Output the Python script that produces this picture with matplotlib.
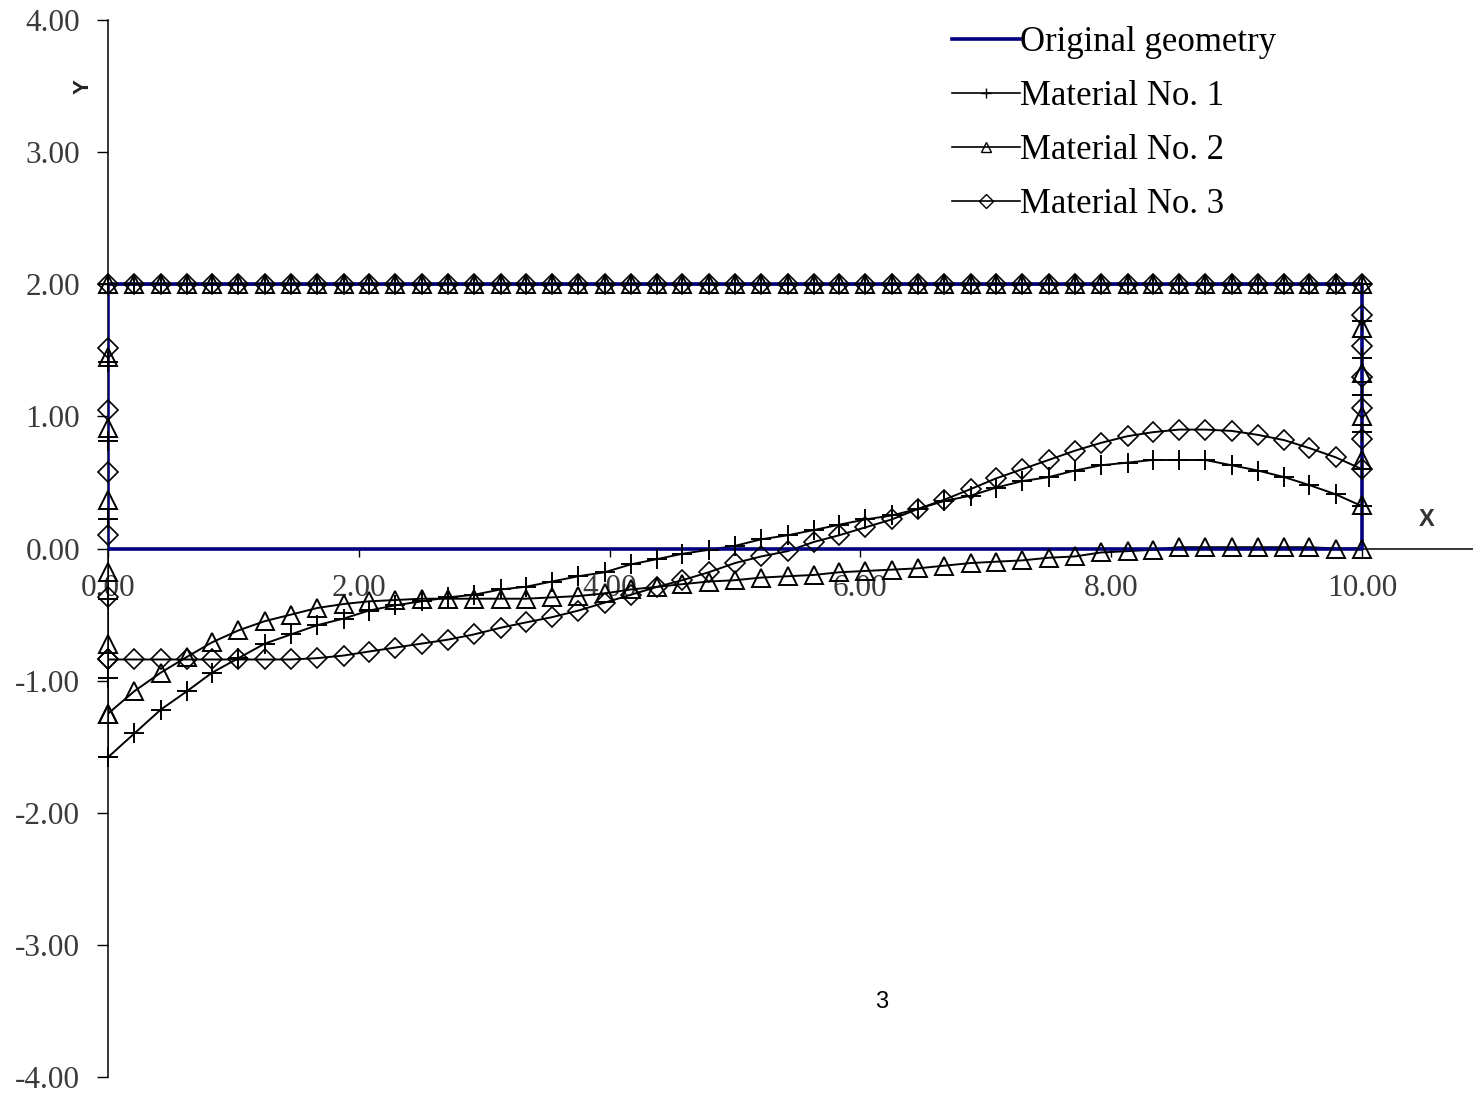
import matplotlib
matplotlib.use("Agg")
import matplotlib.pyplot as plt
from matplotlib.lines import Line2D

# ----------------------------------------------------------
# Node positions along the bottom / top edges (x)
# ----------------------------------------------------------
x_nodes = [0.00, 0.21, 0.42, 0.63, 0.83, 1.04, 1.25, 1.46, 1.67, 1.88,
           2.08, 2.29, 2.50, 2.71, 2.92, 3.13, 3.33, 3.54, 3.75, 3.96,
           4.17, 4.38, 4.58, 4.79, 5.00, 5.21, 5.42, 5.63, 5.83, 6.04,
           6.25, 6.46, 6.67, 6.88, 7.08, 7.29, 7.50, 7.71, 7.92, 8.13,
           8.33, 8.54, 8.75, 8.96, 9.17, 9.38, 9.58, 9.79, 10.00]

top_edge = 2.00
left_x = 0.00
right_x = 10.00

# original (undeformed) rectangle
orig_x = [0.00, 10.00, 10.00, 0.00, 0.00]
orig_y = [0.00, 0.00, 2.00, 2.00, 0.00]

# ----------------------------------------------------------
# Deformed bottom edge of each material
# ----------------------------------------------------------
bottom_m1 = [-1.58, -1.40, -1.22, -1.08, -0.94, -0.83, -0.72, -0.65, -0.58, -0.53,
             -0.47, -0.43, -0.40, -0.37, -0.35, -0.31, -0.29, -0.25, -0.21, -0.18,
             -0.12, -0.08, -0.04, -0.01, 0.02, 0.07, 0.10, 0.14, 0.18, 0.22,
             0.25, 0.30, 0.36, 0.40, 0.46, 0.51, 0.54, 0.59, 0.63, 0.65,
             0.67, 0.67, 0.67, 0.63, 0.59, 0.54, 0.48, 0.41, 0.32]

bottom_m2 = [-1.25, -1.08, -0.94, -0.82, -0.71, -0.62, -0.55, -0.50, -0.45, -0.42,
             -0.40, -0.39, -0.38, -0.38, -0.38, -0.38, -0.38, -0.37, -0.36, -0.34,
             -0.31, -0.29, -0.27, -0.25, -0.24, -0.22, -0.21, -0.20, -0.18, -0.17,
             -0.16, -0.15, -0.13, -0.11, -0.10, -0.09, -0.07, -0.06, -0.03, -0.02,
             -0.01, 0.01, 0.01, 0.01, 0.01, 0.01, 0.01, 0.00, 0.00]

bottom_m3 = [-0.84, -0.84, -0.84, -0.84, -0.84, -0.84, -0.84, -0.84, -0.83, -0.81,
             -0.78, -0.75, -0.72, -0.69, -0.65, -0.60, -0.56, -0.52, -0.47, -0.41,
             -0.35, -0.29, -0.24, -0.18, -0.11, -0.06, -0.02, 0.05, 0.10, 0.16,
             0.22, 0.30, 0.37, 0.45, 0.53, 0.60, 0.67, 0.74, 0.80, 0.85,
             0.88, 0.90, 0.90, 0.89, 0.86, 0.82, 0.76, 0.69, 0.60]

# intermediate nodes on the side edges (bottom -> top)
left_m1 = [-0.98, -0.38, 0.22, 0.81, 1.41]
right_m1 = [0.60, 0.88, 1.16, 1.44, 1.72]
left_m2 = [-0.72, -0.18, 0.37, 0.91, 1.45]
right_m2 = [0.33, 0.67, 1.00, 1.33, 1.67]
left_m3 = [-0.37, 0.10, 0.58, 1.05, 1.52]
right_m3 = [0.83, 1.06, 1.30, 1.53, 1.77]

labels = ["Original geometry", "Material No. 1", "Material No. 2", "Material No. 3"]
markers = ["+", "^", "D"]
msizes = [14, 13, 10]
mews = [1.4, 1.4, 1.2]


def contorno(bottom, left, right):
    """Closed outline: bottom -> right edge -> top -> left edge."""
    xs = list(x_nodes)
    ys = list(bottom)
    xs += [right_x] * (len(right) + 1)
    ys += list(right) + [top_edge]
    xs += list(reversed(x_nodes[:-1]))
    ys += [top_edge] * (len(x_nodes) - 1)
    xs += [left_x] * (len(left) + 1)
    ys += list(reversed(left)) + [bottom[0]]
    return xs, ys


materiais = [(bottom_m1, left_m1, right_m1),
             (bottom_m2, left_m2, right_m2),
             (bottom_m3, left_m3, right_m3)]

# ----------------------------------------------------------
# Figure
# ----------------------------------------------------------
fig = plt.figure(figsize=(14.73, 10.93), dpi=100)
ax = fig.add_axes([108 / 1473, 16 / 1093, 1365 / 1473, 1057 / 1093])

# deformed outlines (lines)
for (b, l, r) in materiais:
    xs, ys = contorno(b, l, r)
    ax.plot(xs, ys, color="black", lw=1.4, zorder=2)

# original geometry
ax.plot(orig_x, orig_y, color="#000080", lw=2.6, zorder=3)

# markers on top
for (b, l, r), mk, ms, mw in zip(materiais, markers, msizes, mews):
    xs, ys = contorno(b, l, r)
    ax.plot(xs, ys, ls="none", marker=mk, ms=ms, mfc="none",
            mec="black", mew=mw, zorder=4, clip_on=False)

ax.set_xlim(0, 10.885)
ax.set_ylim(-4, 4)

ax.spines["left"].set_position(("data", 0))
ax.spines["bottom"].set_position(("data", 0))
ax.spines["top"].set_visible(False)
ax.spines["right"].set_visible(False)
ax.spines["left"].set_linewidth(1.1)
ax.spines["bottom"].set_linewidth(1.1)

ax.set_xticks([0, 2, 4, 6, 8, 10])
ax.set_yticks([-4, -3, -2, -1, 0, 1, 2, 3, 4])
ax.set_xticklabels([f"{v:.2f}" for v in [0, 2, 4, 6, 8, 10]])
ax.set_yticklabels([f"{v:.2f}" for v in [-4, -3, -2, -1, 0, 1, 2, 3, 4]])

for lab in ax.get_xticklabels() + ax.get_yticklabels():
    lab.set_fontfamily("Liberation Serif")
    lab.set_fontsize(22.5)
    lab.set_color("#3a3a3a")

ax.tick_params(axis="x", direction="out", length=6, width=1, pad=12)
ax.tick_params(axis="y", direction="out", length=8, width=1, pad=12)

# axis names
fig.text(1427 / 1473, 1 - 519 / 1093, "X", fontsize=17, fontweight="bold",
         family="Liberation Sans", color="#333333", ha="center", va="center")
fig.text(83 / 1473, 1 - 87 / 1093, "Y", fontsize=16, fontweight="bold",
         family="Liberation Sans", color="#222222", ha="center", va="center",
         rotation=90)

# page number
fig.text(882 / 1473, 1 - 1002 / 1093, "3", fontsize=17,
         family="Liberation Sans", color="black", ha="center", va="center")

# legend
handles = [Line2D([], [], color="#000080", lw=2.6)]
for mk in markers:
    handles.append(Line2D([], [], color="black", lw=1.2, marker=mk, ms=7,
                          mfc="none", mec="black", mew=1.0))
leg = fig.legend(handles, labels, loc="upper left",
                 bbox_to_anchor=(921 / 1473, 1 + 5 / 1093),
                 frameon=False, handlelength=1.95, handletextpad=0.0,
                 labelspacing=0.6,
                 prop={"family": "Liberation Serif", "size": 25})

fig.savefig("out.png", dpi=100)
